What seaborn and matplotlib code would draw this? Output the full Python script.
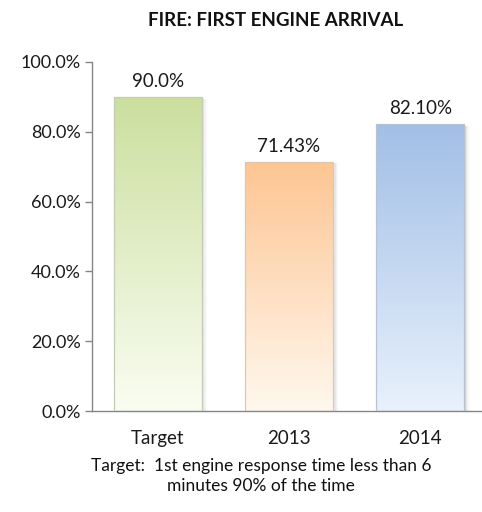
# Fire first engine arrival: target vs actual, as gradient bars

import matplotlib.pyplot as plt
import matplotlib.colors as mcolors
import numpy as np
import pandas as pd
import seaborn as sns

categories = ['Target', '2013', '2014']
values = [90.0, 71.43, 82.10]
value_labels = ['90.0%', '71.43%', '82.10%']
top_colors = ['#cbdf9e', '#fdc592', '#a2bfe6']
bottom_colors = ['#fafdf2', '#fff8ee', '#e8f1fc']
edge_colors = ['#c4cbb6', '#d9c8b8', '#b8c2d0']

sns.set_theme(style='white')
plt.rcParams['font.family'] = ['Lato', 'DejaVu Sans']

df = pd.DataFrame({'category': categories, 'value': values})

fig = plt.figure(figsize=(4.82, 5.12), dpi=100)
ax = fig.add_axes([92 / 482, 1 - 411 / 512, 390 / 482, 349 / 512])

sns.barplot(data=df, x='category', y='value', width=0.67, color='white',
            edgecolor='none', ax=ax)
ax.set_xlim(-0.5, 2.47)
ax.set_ylim(0, 100)

# gradient fill + soft right shadow for each bar
for i, (patch, top, bottom, edge) in enumerate(zip(ax.patches, top_colors, bottom_colors, edge_colors)):
    x0, w, h = patch.get_x(), patch.get_width(), patch.get_height()
    for k, a in enumerate([0.14, 0.09, 0.05, 0.03]):
        ax.add_patch(plt.Rectangle((x0 + w, 0), 0.01 * (k + 1), h - 0.5, color='#707070',
                                   alpha=a, lw=0, zorder=1))
    cmap = mcolors.LinearSegmentedColormap.from_list('g', [bottom, top])
    grad = np.linspace(0, 1, 256).reshape(-1, 1)
    im = ax.imshow(grad, cmap=cmap, aspect='auto', origin='lower',
                   extent=(x0, x0 + w, 0, h), zorder=2)
    im.set_clip_path(patch)
    patch.set_facecolor('none')
    patch.set_edgecolor(edge)
    patch.set_linewidth(0.9)
    patch.set_zorder(3)
    ax.text(x0 + w / 2, h + 2.0, value_labels[i],
            ha='center', va='bottom', fontsize=13.5, color='#1a1a1a')

ax.set_yticks(np.arange(0, 101, 20))
ax.set_yticklabels([f'{t:.1f}%' for t in np.arange(0, 101, 20)], fontsize=13, color='#1a1a1a')
ax.tick_params(axis='y', which='major', length=5, width=1, color='#868686',
               direction='out', left=True, pad=3)
ax.tick_params(axis='x', length=0, labelsize=13.5, labelcolor='#1a1a1a', pad=14)
ax.set_xlabel('')
ax.set_ylabel('')
for s in ['top', 'right']:
    ax.spines[s].set_visible(False)
for s in ['left', 'bottom']:
    ax.spines[s].set_color('#868686')
    ax.spines[s].set_linewidth(1)

fig.text(276 / 482, 1 - 20 / 512, 'FIRE: FIRST ENGINE ARRIVAL', ha='center', va='center',
         fontsize=13.5, fontweight='bold', color='#111111')
fig.text(261 / 482, 1 - 476 / 512, 'Target:  1st engine response time less than 6\nminutes 90% of the time',
         ha='center', va='center', fontsize=12.5, linespacing=1.3, color='#111111')

fig.savefig('out.png', dpi=100)
